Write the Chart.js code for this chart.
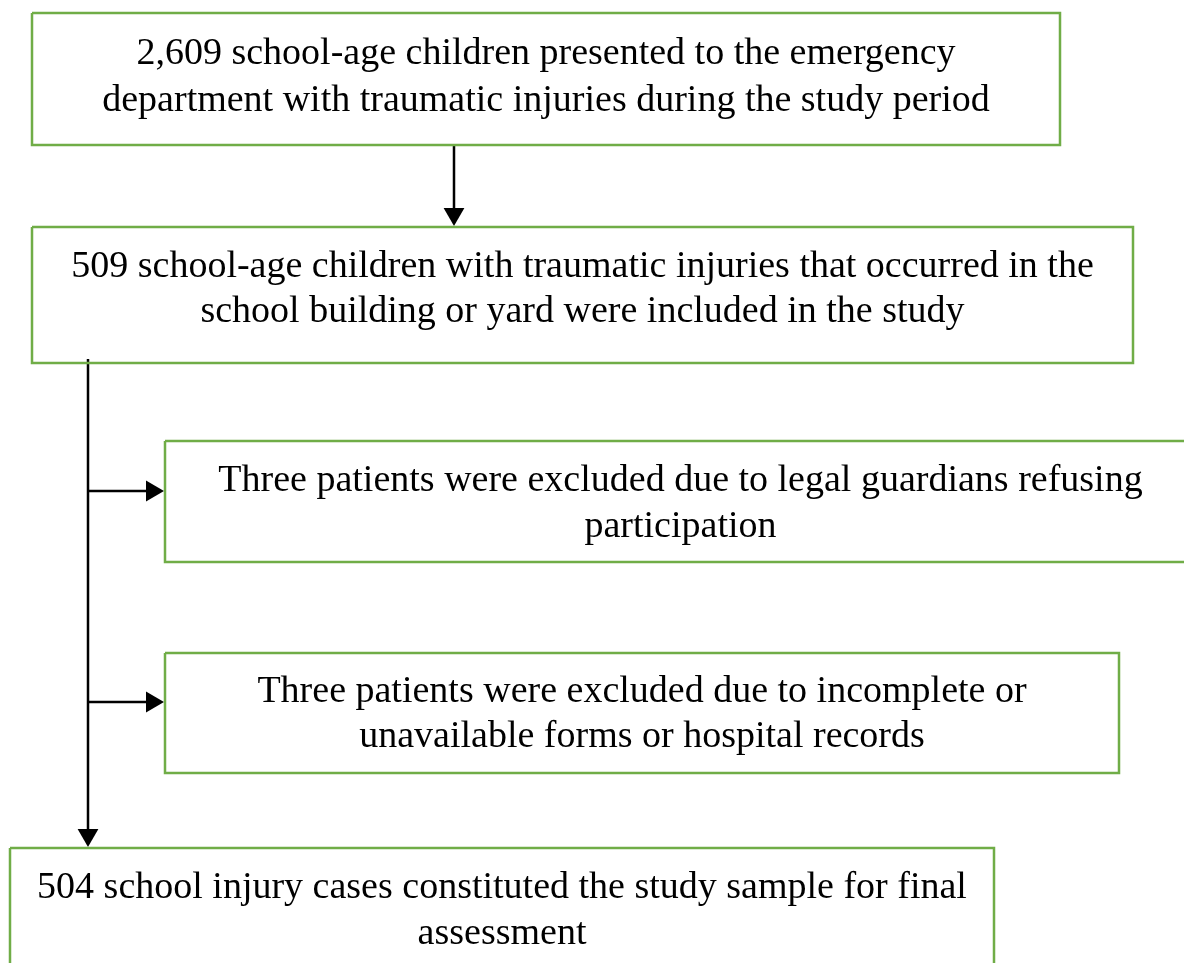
<!DOCTYPE html>
<html>
<head>
<meta charset="utf-8">
<script src="https://cdn.jsdelivr.net/npm/chart.js@4"></script>
<style>
  html, body { margin: 0; padding: 0; background: #fff; }
  #wrap { width: 1184px; height: 963px; }
</style>
</head>
<body>
<div id="wrap"><canvas id="flow"></canvas></div>
<script>
// box texts, top to bottom
const boxLines = [
  ['2,609 school-age children presented to the emergency',
   'department with traumatic injuries during the study period'],
  ['509 school-age children with traumatic injuries that occurred in the',
   'school building or yard were included in the study'],
  ['Three patients were excluded due to legal guardians refusing',
   'participation'],
  ['Three patients were excluded due to incomplete or',
   'unavailable forms or hospital records'],
  ['504 school injury cases constituted the study sample for final',
   'assessment']
];

// layout (canvas units, y grows downwards)
const boxLeft   = [32, 32, 165, 165, 10];
const boxRight  = [1060, 1133, 1196, 1119, 994];
const boxTop    = [13, 227, 441, 653, 848];
const boxBottom = [145, 363, 562, 773, 975];
const baselines = [[64, 111], [277, 322], [491, 537], [702, 747], [898, 944]];

// connectors: [x1, y1, x2, y2], arrow at the end
const links = [
  [454, 145, 454, 226],
  [88, 359, 88, 847],
  [88, 491, 164, 491],
  [88, 702, 164, 702]
];

const green = '#70ad47';
const headR = 12;

const boxSets = boxLeft.map((l, i) => ({
  type: 'line',
  data: [
    {x: l, y: boxTop[i]}, {x: boxRight[i], y: boxTop[i]},
    {x: boxRight[i], y: boxBottom[i]}, {x: l, y: boxBottom[i]},
    {x: l, y: boxTop[i]}
  ],
  borderColor: green,
  borderWidth: 2.5,
  pointRadius: 0,
  fill: false,
  tension: 0,
  clip: false
}));

// line stops at arrowhead base, head drawn as triangle point
const linkSets = links.map(([x1, y1, x2, y2]) => {
  const down = x1 === x2;
  const bx = down ? x2 : x2 - headR * 1.5;
  const by = down ? y2 - headR * 1.5 : y2;
  return {
    type: 'line',
    data: [{x: x1, y: y1}, {x: bx, y: by}],
    borderColor: '#000',
    borderWidth: 2.5,
    pointRadius: 0,
    tension: 0,
    clip: false
  };
});

const headSet = {
  type: 'scatter',
  data: links.map(([x1, y1, x2, y2]) => x1 === x2 ? {x: x2, y: y2 - headR} : {x: x2 - headR, y: y2}),
  pointStyle: 'triangle',
  rotation: links.map(([x1, y1, x2]) => x1 === x2 ? 180 : 90),
  pointRadius: headR,
  backgroundColor: '#000',
  borderColor: '#000',
  borderWidth: 0,
  clip: false
};

const boxTextPlugin = {
  id: 'boxText',
  afterDatasetsDraw(chart) {
    const {ctx, scales: {x, y}} = chart;
    ctx.save();
    ctx.fillStyle = '#000';
    ctx.font = '38px "Liberation Serif", "Times New Roman", serif';
    ctx.textAlign = 'center';
    ctx.textBaseline = 'alphabetic';
    boxLines.forEach((lines, i) => {
      const cx = x.getPixelForValue((boxLeft[i] + boxRight[i]) / 2);
      lines.forEach((t, j) => ctx.fillText(t, cx, y.getPixelForValue(baselines[i][j])));
    });
    ctx.restore();
  }
};

new Chart('flow', {
  type: 'scatter',
  data: { datasets: [...boxSets, ...linkSets, headSet] },
  options: {
    responsive: true,
    maintainAspectRatio: false,
    animation: false,
    layout: { padding: 0, autoPadding: false },
    plugins: { legend: { display: false }, tooltip: { enabled: false } },
    scales: {
      x: { type: 'linear', min: 0, max: 1184, display: false },
      y: { type: 'linear', min: 0, max: 963, reverse: true, display: false }
    }
  },
  plugins: [boxTextPlugin]
});
</script>
</body>
</html>
